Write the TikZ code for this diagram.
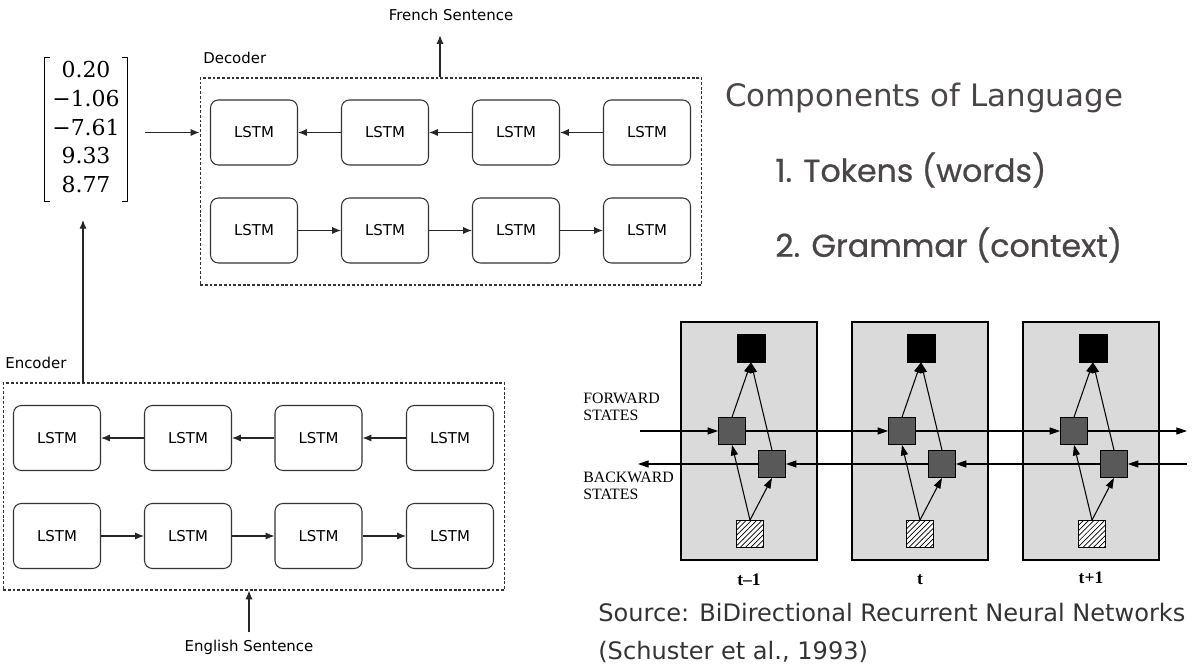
\documentclass[tikz,border=0pt]{standalone}
\usepackage{amsmath}
\usepackage{fontspec}
\usepackage{tikz}
\usetikzlibrary{arrows.meta,patterns}
\newfontfamily\comicfont{DejaVu Sans}
\newfontfamily\montfont[FakeBold=0.6]{Poppins}
\newfontfamily\timesfont{Liberation Serif}
\newfontfamily\numfont{DejaVu Serif}
\definecolor{textgray}{HTML}{4A4546}
\definecolor{panelgray}{HTML}{DADADA}
\definecolor{stategray}{HTML}{595959}

\begin{document}
\begin{tikzpicture}[x=0.02cm,y=-0.02cm]
	\tikzstyle{lstm}=[draw=black!80, line width=0.6pt, rounded corners=4.5pt, minimum width=1.74cm, minimum height=1.3cm, font=\comicfont\fontsize{8.5}{10}\selectfont]
	\tikzstyle{group}=[draw=black!80, line width=0.6pt, dash pattern=on 1.6pt off 1.1pt, minimum width=10.04cm, minimum height=4.14cm]
	\tikzstyle{link}=[draw=black!85, line width=0.6pt, -{Latex[length=5pt,width=4pt]}]
	\tikzstyle{lbl}=[font=\comicfont\fontsize{8.5}{10}\selectfont, inner sep=0pt]
	\tikzstyle{panel}=[draw, line width=0.7pt, fill=panelgray, minimum width=2.72cm, minimum height=4.76cm]
	\tikzstyle{outsq}=[draw, fill=black, inner sep=0pt, minimum size=0.56cm]
	\tikzstyle{statesq}=[draw, fill=stategray, inner sep=0pt, minimum size=0.54cm]
	\tikzstyle{insq}=[draw, preaction={fill=white}, pattern=north east lines, inner sep=0pt, minimum size=0.54cm]
	\tikzstyle{flow}=[line width=0.6pt, -{Triangle[length=6pt,width=4pt]}]
	\useasboundingbox (0,0) rectangle (1201,671);

	\node[group] (dec) at (451,181.5) {};
	\node[lbl, anchor=west] (declbl) at (203,58) {Decoder};
	\node[lbl] (fr) at (451,15) {French Sentence};
	\node[lstm] (d1) at (254,132.5) {LSTM};
	\node[lstm] (d2) at (385,132.5) {LSTM};
	\node[lstm] (d3) at (516,132.5) {LSTM};
	\node[lstm] (d4) at (647,132.5) {LSTM};
	\node[lstm] (e1) at (254,230.5) {LSTM};
	\node[lstm] (e2) at (385,230.5) {LSTM};
	\node[lstm] (e3) at (516,230.5) {LSTM};
	\node[lstm] (e4) at (647,230.5) {LSTM};
	\draw[link] (d4) -- (d3);
	\draw[link] (d3) -- (d2);
	\draw[link] (d2) -- (d1);
	\draw[link] (e1) -- (e2);
	\draw[link] (e2) -- (e3);
	\draw[link] (e3) -- (e4);
	\draw[link, shorten >=8pt] ([xshift=-0.22cm]dec.north) -- ([xshift=-0.22cm]dec.north |- fr.south);

	\node[inner sep=0pt, minimum width=1.64cm, minimum height=2.66cm, font=\numfont\fontsize{12.5}{16.3}\selectfont] (vec) at (86,129.5) {\begin{tabular}{@{}c@{}}0.20\\−1.06\\−7.61\\9.33\\8.77\end{tabular}};
	\draw[line width=0.6pt] ([xshift=0.1cm]vec.north west) -- (vec.north west) -- (vec.south west) -- ([xshift=0.1cm]vec.south west);
	\draw[line width=0.6pt] ([xshift=-0.1cm]vec.north east) -- (vec.north east) -- (vec.south east) -- ([xshift=-0.1cm]vec.south east);
	\draw[link, shorten <=10pt] (vec.east |- d1) -- (dec.west |- d1);

	\node[group] (enc) at (254,486.5) {};
	\node[lbl, anchor=west] (enclbl) at (5,363) {Encoder};
	\node[lbl] (en) at (249,647) {English Sentence};
	\node[lstm] (a1) at (57,438) {LSTM};
	\node[lstm] (a2) at (188,438) {LSTM};
	\node[lstm] (a3) at (318.5,438) {LSTM};
	\node[lstm] (a4) at (450,438) {LSTM};
	\node[lstm] (b1) at (57,536) {LSTM};
	\node[lstm] (b2) at (188,536) {LSTM};
	\node[lstm] (b3) at (318.5,536) {LSTM};
	\node[lstm] (b4) at (450,536) {LSTM};
	\draw[link] (a4) -- (a3);
	\draw[link] (a3) -- (a2);
	\draw[link] (a2) -- (a1);
	\draw[link] (b1) -- (b2);
	\draw[link] (b2) -- (b3);
	\draw[link] (b3) -- (b4);
	\draw[link, shorten >=10.5pt] ([xshift=-0.06cm]vec.south |- enc.north) -- ([xshift=-0.06cm]vec.south);
	\draw[link, shorten <=4pt] (en.north) -- (en.north |- enc.south);

	\node[anchor=west, inner sep=0pt, text=textgray, font=\comicfont\fontsize{17.6}{20}\selectfont] (title) at (725,98) {Components of Language};
	\node[anchor=west, inner sep=0pt, text=textgray, font=\montfont\fontsize{18}{21}\selectfont] (item1) at (775,170) {1. Tokens (words)};
	\node[anchor=west, inner sep=0pt, text=textgray, font=\montfont\fontsize{18}{21}\selectfont] (item2) at (775,245) {2. Grammar (context)};

	\node[panel] (p1) at (749,441) {};
	\node[panel] (p2) at (920,441) {};
	\node[panel] (p3) at (1091,441) {};
	\node[outsq] (o1) at (751,348) {};
	\node[outsq] (o2) at (921,348) {};
	\node[outsq] (o3) at (1093,348) {};
	\node[statesq] (f1) at (732,431) {};
	\node[statesq] (f2) at (902,431) {};
	\node[statesq] (f3) at (1074,431) {};
	\node[statesq] (g1) at (772,464) {};
	\node[statesq] (g2) at (942,464) {};
	\node[statesq] (g3) at (1114,464) {};
	\node[insq] (i1) at (750,534) {};
	\node[insq] (i2) at (920,534) {};
	\node[insq] (i3) at (1092,534) {};
	\coordinate (fstart) at (640,431);
	\coordinate (fend) at (1187,431);
	\coordinate (bstart) at (1187,464);
	\coordinate (bend) at (638,464);
	\draw[flow] (fstart) -- (f1);
	\draw[flow] (f1) -- (f2);
	\draw[flow] (f2) -- (f3);
	\draw[flow] (f3) -- (fend);
	\draw[flow] (bstart) -- (g3);
	\draw[flow] (g3) -- (g2);
	\draw[flow] (g2) -- (g1);
	\draw[flow] (g1) -- (bend);
	\draw[flow] (i1.north) -- (f1.south);
	\draw[flow] (i1.north) -- (g1.south);
	\draw[flow] (f1.north) -- (o1.south);
	\draw[flow] (g1.north) -- (o1.south);
	\draw[flow] (i2.north) -- (f2.south);
	\draw[flow] (i2.north) -- (g2.south);
	\draw[flow] (f2.north) -- (o2.south);
	\draw[flow] (g2.north) -- (o2.south);
	\draw[flow] (i3.north) -- (f3.south);
	\draw[flow] (i3.north) -- (g3.south);
	\draw[flow] (f3.north) -- (o3.south);
	\draw[flow] (g3.north) -- (o3.south);
	\node[anchor=west, align=left, inner sep=0pt, font=\timesfont\fontsize{9}{9.6}\selectfont] (fwlbl) at (583,407) {FORWARD\\STATES};
	\node[anchor=west, align=left, inner sep=0pt, font=\timesfont\fontsize{9}{9.6}\selectfont] (bwlbl) at (583,486) {BACKWARD\\STATES};
	\node[font=\timesfont\bfseries\fontsize{10}{12}\selectfont] (t1) at (749,580) {t–1};
	\node[font=\timesfont\bfseries\fontsize{10}{12}\selectfont] (t2) at (920,580) {t};
	\node[font=\timesfont\bfseries\fontsize{10}{12}\selectfont] (t3) at (1091,578) {t+1};

	\node[anchor=west, align=left, inner sep=0pt, text=black!80, font=\comicfont\fontsize{13.7}{21.5}\selectfont] (src) at (598,633) {Source: BiDirectional Recurrent Neural Networks\\(Schuster et al., 1993)};
\end{tikzpicture}
\end{document}
